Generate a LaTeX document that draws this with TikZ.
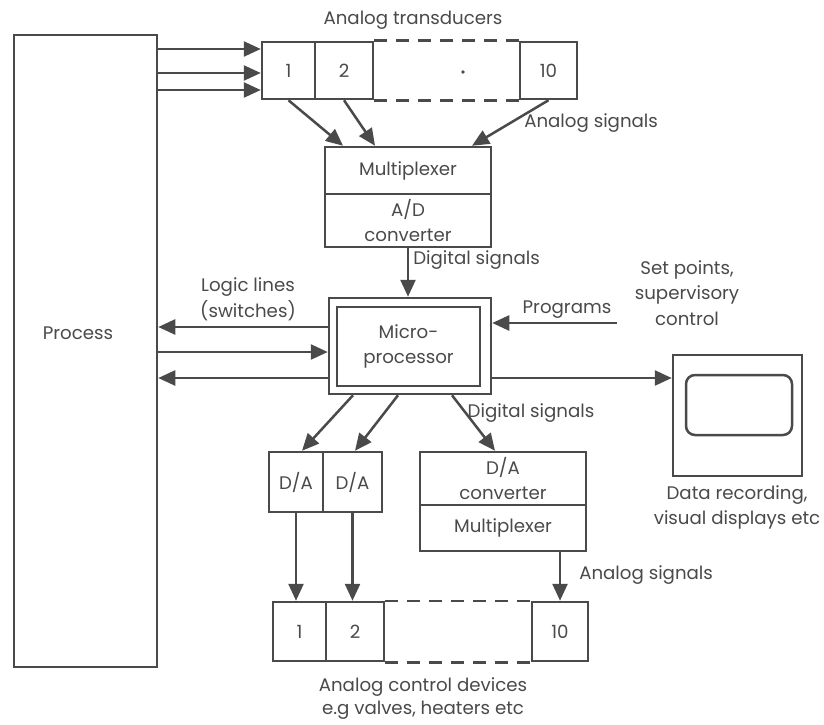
\documentclass[tikz,border=0pt]{standalone}
\usepackage{fontspec}
\setmainfont{Poppins}
\usetikzlibrary{arrows.meta}
\definecolor{ink}{HTML}{4A4A4A}
\newcommand\dfont{\fontsize{18.2}{25.5}\selectfont}
\begin{document}
\begin{tikzpicture}[x=1pt,y=-1pt,color=ink,line width=2.5pt,
  box/.style={draw,rectangle,inner sep=0pt,font=\dfont,align=center},
  lbl/.style={inner sep=0pt,font=\dfont,align=center},
  arr/.style={-{Triangle[length=17pt,width=15pt]}},
  dashline/.style={dash pattern=on 13pt off 9pt}]
\fill[white] (0,0) rectangle (824,725);
\useasboundingbox (0,0) rectangle (824,725);

% process
\node[box,minimum width=143pt,minimum height=632pt] (process) at (85.5,351) {};
\node[lbl] (proclbl) at (78,333) {Process};

% transducers
\node[lbl] (anatrans) at (413,20) {Analog transducers};
\node[box,minimum width=53pt,minimum height=57pt] (t1) at (288.5,70.5) {1};
\node[box,minimum width=58pt,minimum height=57pt] (t2) at (344,70.5) {2};
\node[box,minimum width=57pt,minimum height=57pt] (t10) at (548.5,70.5) {10};
\draw[dashline] (t2.north east) -- (t10.north west);
\draw[dashline] (t2.south east) -- (t10.south west);
\node[circle,fill,inner sep=0pt,minimum size=3.6pt] (dot) at (463,72) {};

\coordinate (pa1) at (0,49);
\coordinate (pa2) at (0,73);
\coordinate (pa3) at (0,90);
\draw[arr] (process.east |- pa1) -- (t1.west |- pa1);
\draw[arr] (process.east |- pa2) -- (t1.west |- pa2);
\draw[arr] (process.east |- pa3) -- (t1.west |- pa3);

% multiplexer / AD
\node[box,minimum width=166pt,minimum height=47pt] (muxtop) at (408,170.5) {Multiplexer};
\node[box,minimum width=166pt,minimum height=53pt] (muxbot) at (408,220.5) {A/D\\converter};
\draw[arr] (t1.south) -- ([xshift=-65pt]muxtop.north);
\draw[arr] (t2.south) -- ([xshift=-33pt]muxtop.north);
\draw[arr] (t10.south) -- ([xshift=64pt]muxtop.north);
\node[lbl,anchor=west] (anasig1) at (523,123) {Analog signals};

% microprocessor
\node[box,minimum width=162pt,minimum height=96pt] (microout) at (410,346) {};
\node[box,minimum width=143pt,minimum height=79pt] (microin) at (408.5,346.5) {Micro-\\processor};
\draw[arr] (muxbot.south) -- (muxbot.south |- microout.north);
\node[lbl,anchor=west] (digsig1) at (412,260) {Digital signals};

\node[lbl] (logic) at (248,299.5) {Logic lines\\(switches)};
\coordinate (ll1) at (0,327);
\coordinate (ll2) at (0,352);
\coordinate (ll3) at (0,378);
\draw[arr] (microout.west |- ll1) -- (process.east |- ll1);
\draw[arr] (process.east |- ll2) -- (microout.west |- ll2);
\draw[arr] (microout.west |- ll3) -- (process.east |- ll3);

\coordinate (progsrc) at (617,323);
\draw[arr] (progsrc) -- (microout.east |- progsrc);
\node[lbl] (programs) at (567,310) {Programs};
\node[lbl] (setpts) at (687,293) {Set points,\\supervisory\\control};

% display
\node[box,minimum width=129pt,minimum height=121pt] (disp) at (737.5,415.5) {};
\node[box,rounded corners=9pt,minimum width=106pt,minimum height=60pt] (screen) at (739,405) {};
\coordinate (dl) at (0,378);
\draw[arr] (microout.east |- dl) -- (disp.west |- dl);
\node[lbl] (datarec) at (737,507.5) {Data recording,\\visual displays etc};

% D/A
\node[box,minimum width=54pt,minimum height=60pt] (da1) at (296,482) {D/A};
\node[box,minimum width=59pt,minimum height=60pt] (da2) at (352.5,482) {D/A};
\node[box,minimum width=166pt,minimum height=53pt] (dactop) at (503,478.5) {D/A\\converter};
\node[box,minimum width=166pt,minimum height=46pt] (dacbot) at (503,528) {Multiplexer};
\draw[arr] ([xshift=-57pt]microout.south) -- ([xshift=6pt]da1.north);
\draw[arr] ([xshift=-12pt]microout.south) -- ([xshift=2.5pt]da2.north);
\draw[arr] ([xshift=42pt]microout.south) -- ([xshift=-8pt]dactop.north);
\node[lbl] (digsig2) at (531,413) {Digital signals};

% control devices
\node[box,minimum width=53pt,minimum height=59pt] (c1) at (299.5,631.5) {1};
\node[box,minimum width=58pt,minimum height=59pt] (c2) at (355,631.5) {2};
\node[box,minimum width=56pt,minimum height=59pt] (c10) at (560,631.5) {10};
\draw[dashline] (c2.north east) -- (c10.north west);
\draw[dashline] (c2.south east) -- (c10.south west);
\draw[arr] (da1.south) -- (da1.south |- c1.north);
\draw[arr] (da2.south) -- (da2.south |- c2.north);
\draw[arr] (dacbot.south -| c10.north) -- (c10.north);
\node[lbl,anchor=west] (anasig2) at (578,575) {Analog signals};
\node[lbl,font=\fontsize{18.2}{23}\selectfont] (ctrl) at (423,698.5) {Analog control devices\\e.g valves, heaters etc};
\end{tikzpicture}
\end{document}
